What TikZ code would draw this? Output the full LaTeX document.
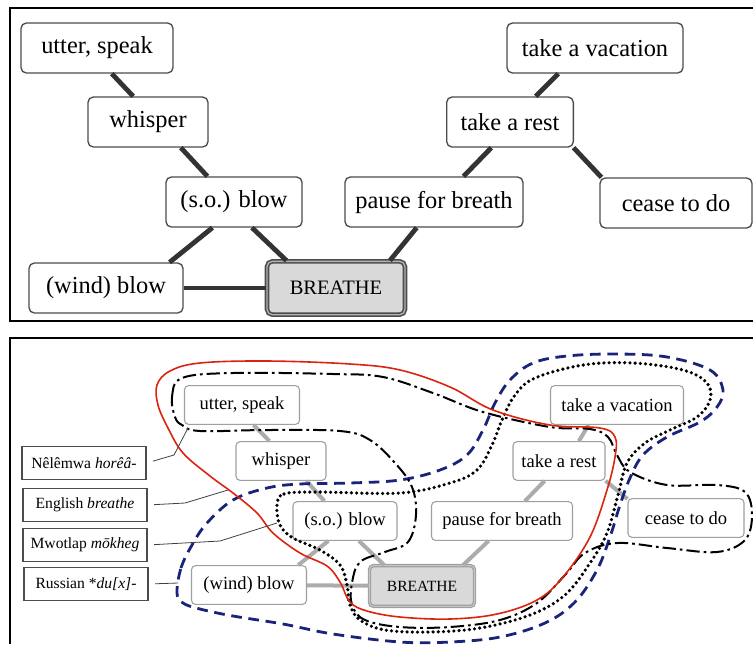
\documentclass[tikz,border=0pt]{standalone}
\usepackage{fontspec}
\setmainfont{Liberation Serif}
\definecolor{navy}{RGB}{25,35,120}
\definecolor{engred}{RGB}{220,35,15}
\tikzset{
    topbox/.style = {draw=black!70, line width=1pt, rounded corners=4pt, fill=white,
        inner sep=2pt, minimum height=37.5pt, font=\fontsize{18.3}{22}\selectfont},
    topmain/.style = {topbox, fill=gray!30, line width=1.2pt, double=gray!60,
        double distance=1pt, font=\fontsize{15.4}{18}\selectfont},
    topedge/.style = {line width=3.6pt, black!80},
    botbox/.style = {draw=gray!75, line width=0.8pt, rounded corners=3pt, fill=white,
        inner sep=2pt, minimum height=29pt, font=\fontsize{13.9}{16}\selectfont},
    botmain/.style = {botbox, fill=gray!30, line width=0.9pt, double=gray!45,
        double distance=0.8pt, font=\fontsize{11.7}{14}\selectfont},
    botedge/.style = {line width=3pt, gray!65},
    langbox/.style = {draw=black!70, line width=0.8pt, fill=white, minimum width=93pt,
        minimum height=25pt, font=\fontsize{11.7}{14}\selectfont},
    leader/.style = {black!75, line width=0.6pt, shorten <=5pt},
    nelem/.style = {black, line width=1.5pt, dash pattern=on 10pt off 3pt on 2pt off 3pt},
    engl/.style = {engred, line width=1.2pt},
    mwot/.style = {black, line width=2.7pt, dash pattern=on 0pt off 3.9pt, line cap=round},
    russ/.style = {navy, line width=2.1pt, dash pattern=on 8pt off 5pt}
}
\begin{document}
\begin{tikzpicture}[x=0.75pt, y=-0.75pt]
    \useasboundingbox (0,0) rectangle (753,644);

    % frames
    \draw [line width=1.6pt] (753,8) -- (10,8) -- (10,321) -- (753,321);
    \draw [line width=1.6pt] (753,338) -- (10,338) -- (10,644);

    % upper panel
    \node [topbox, minimum width=114pt] (t-utter) at (97,48) {utter, speak};
    \node [topbox, minimum width=90pt] (t-whisper) at (148,122) {whisper};
    \node [topbox, minimum width=102pt] (t-sob) at (234,202) {(s.o.) blow};
    \node [topbox, minimum width=115.5pt] (t-wind) at (106,288) {(wind) blow};
    \node [topmain, minimum width=103.5pt, minimum height=40pt] (t-breathe) at (336,288) {BREATHE};
    \node [topbox, minimum width=133.5pt] (t-pause) at (434,202) {pause for breath};
    \node [topbox, minimum width=95pt] (t-rest) at (510,122) {take a rest};
    \node [topbox, minimum width=132pt] (t-vacation) at (595,48) {take a vacation};
    \node [topbox, minimum width=114pt] (t-cease) at (676,203) {cease to do};

    \foreach \a/\b in {utter.-60/whisper.120, whisper.-38/sob.136, sob.230/wind.22,
        sob.-55/breathe.151, wind/breathe, breathe.27/pause.236, pause.41/rest.234,
        rest.45/vacation.215, rest.-22/cease.161}
        \draw [topedge] (t-\a) -- (t-\b);

    % lower panel
    \node [botbox, minimum width=86.25pt] (b-utter) at (242,405) {utter, speak};
    \node [botbox, minimum width=67.5pt] (b-whisper) at (281,461) {whisper};
    \node [botbox, minimum width=78pt] (b-sob) at (345,521) {(s.o.) blow};
    \node [botbox, minimum width=86.25pt] (b-wind) at (249,585) {(wind) blow};
    \node [botmain, minimum width=78.75pt, minimum height=30.5pt] (b-breathe) at (422,586) {BREATHE};
    \node [botbox, minimum width=105.75pt] (b-pause) at (502,521) {pause for breath};
    \node [botbox, minimum width=69pt] (b-rest) at (559,461) {take a rest};
    \node [botbox, minimum width=99.75pt] (b-vacation) at (617,405) {take a vacation};
    \node [botbox, minimum width=87pt] (b-cease) at (686,518) {cease to do};

    \foreach \a/\b in {utter.-60/whisper.120, whisper.-38/sob.136, sob.230/wind.22,
        sob.-55/breathe.151, wind/breathe, breathe.27/pause.236, pause.41/rest.234,
        rest.45/vacation.215, rest.-23/cease.162}
        \draw [botedge] (b-\a) -- (b-\b);

    % colexification areas
    \draw [russ] plot [smooth cycle, tension=0.6] coordinates {
        (177,593) (181,568) (192,545) (207,523) (233,500) (267,488) (300,484)
        (350,483) (400,480) (440,470) (467,455) (483,430) (495,403) (510,380)
        (533,363) (567,356) (617,354) (667,357) (710,370) (723,390) (717,407)
        (700,422) (667,437) (643,455) (630,478) (620,505) (610,537) (597,570)
        (575,602) (545,623) (500,637) (450,642) (400,642) (333,634) (283,624)
        (233,616) (200,609) (183,603)};
    \draw [mwot] plot [smooth cycle, tension=0.6] coordinates {
        (277,505) (284,494) (317,492) (400,493) (450,483) (477,470) (492,445)
        (502,420) (515,395) (535,378) (583,365) (633,363) (683,370) (707,383)
        (710,400) (697,417) (670,430) (645,443) (627,463) (618,495) (607,533)
        (590,563) (565,595) (530,615) (480,628) (430,632) (385,630) (360,620)
        (350,605) (347,585) (340,565) (320,550) (293,538) (280,525)};
    \draw [nelem] plot [smooth cycle, tension=0.6] coordinates {
        (175,417) (172,397) (182,378) (233,373) (333,374) (383,377) (433,393)
        (483,412) (550,427) (590,429) (608,437) (617,455) (630,472) (667,485)
        (717,485) (745,492) (752,515) (745,540) (717,552) (667,548) (617,543)
        (585,553) (565,575) (537,603) (500,620) (450,627) (400,627) (365,620)
        (352,605) (352,583) (360,562) (385,552) (408,542) (416,515) (412,487)
        (395,463) (370,440) (340,431) (267,430) (200,431) (182,425)};
    \draw [engl] plot [smooth cycle, tension=0.6] coordinates {
        (170,371) (200,363) (267,361) (350,364) (400,370) (450,387) (493,410)
        (550,425) (600,428) (615,437) (615,457) (607,490) (590,537) (563,577)
        (537,600) (497,614) (450,619) (400,617) (367,611) (350,602) (340,582)
        (327,566) (300,553) (273,533) (257,513) (233,493) (210,476) (183,453)
        (168,428) (158,405) (157,385)};

    % languages
    \node [langbox] (nel) at (84,463) {Nêlêmwa \textit{horêâ-}};
    \node [langbox] (eng) at (85,505) {English \textit{breathe}};
    \node [langbox] (mwo) at (85,545) {Mwotlap \textit{mōkheg}};
    \node [langbox] (rus) at (86,584) {Russian *\textit{du[x]-}};

    \coordinate (nel-bend) at (174,455);
    \coordinate (nel-end) at (188,428);
    \coordinate (eng-bend) at (185,503);
    \coordinate (eng-end) at (228,490);
    \coordinate (mwo-bend) at (220,541);
    \coordinate (mwo-end) at (277,523);
    \coordinate (rus-end) at (178,583);

    \draw [leader] (nel.east) -- (nel-bend) -- (nel-end);
    \draw [leader] (eng.east) -- (eng-bend) -- (eng-end);
    \draw [leader] (mwo.east) -- (mwo-bend) -- (mwo-end);
    \draw [leader] (rus.east) -- (rus-end);
\end{tikzpicture}
\end{document}
